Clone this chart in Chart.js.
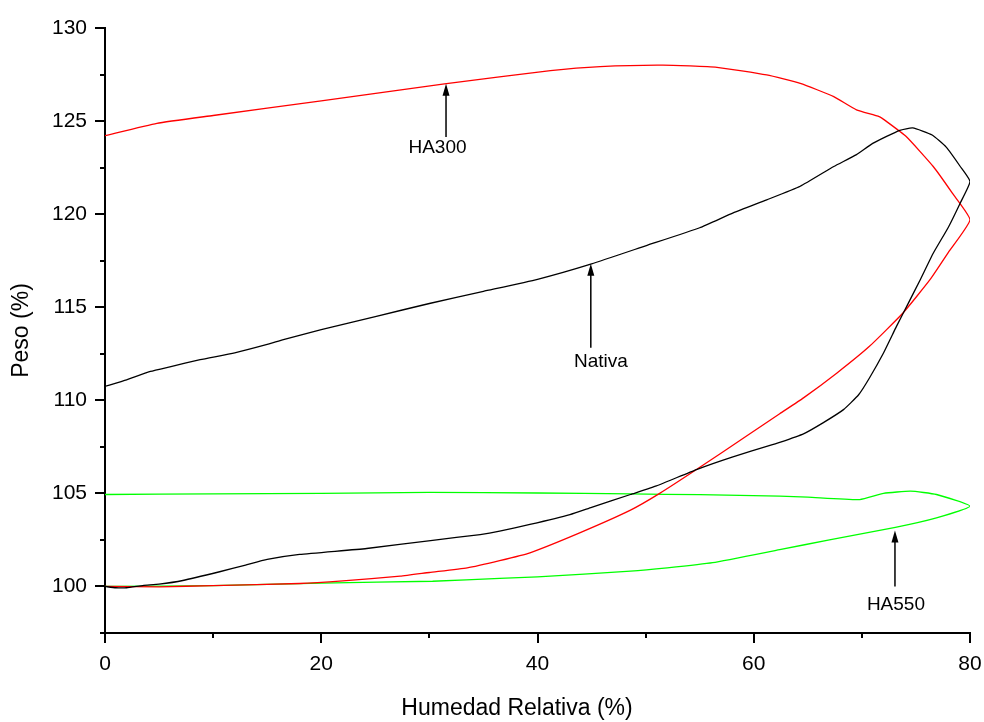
<!DOCTYPE html>
<html>
<head>
<meta charset="utf-8">
<script src="https://cdn.jsdelivr.net/npm/chart.js@4/dist/chart.umd.min.js"></script>
<style>
    body { margin: 0; background: #fff; }
</style>
</head>
<body>
<canvas id="myChart" width="984" height="722"></canvas>
<script>
// Nativa - adsorption (0 -> 80) then desorption (80 -> 0)
var nativaRH = [0, 1, 2, 3.5, 5, 7.2, 10.6, 13, 15, 18, 24.2, 30.3, 34.7, 36.5, 39.3, 43, 45, 48.6, 51, 54.7, 58, 61.5, 62.4, 64.6, 66.4, 68.3, 69.7, 70.7, 72, 73.2, 74.3, 75.4, 76.6, 78, 79.1, 80,
    79.1, 77.8, 76.5, 74.7, 73.5, 71, 69.5, 67.4, 64.3, 61.2, 58.1, 55, 50, 45, 40, 35, 30, 25, 20, 16.5, 15, 12, 8.8, 6, 4.2, 2, 0];
var nativaPeso = [100, 99.93, 99.93, 100.05, 100.12, 100.32, 100.79, 101.15, 101.45, 101.72, 102.04, 102.48, 102.79, 102.97, 103.33, 103.86, 104.25, 104.94, 105.4, 106.28, 106.95, 107.58, 107.74, 108.2, 108.79, 109.5, 110.3, 111.2, 112.54, 113.97, 115.22, 116.48, 117.9, 119.3, 120.6, 121.75,
    122.56, 123.6, 124.25, 124.63, 124.5, 123.8, 123.2, 122.56, 121.5, 120.77, 120.07, 119.27, 118.3, 117.33, 116.5, 115.85, 115.2, 114.5, 113.8, 113.26, 113.0, 112.55, 112.18, 111.8, 111.55, 111.1, 110.75];

// HA300
var ha300RH = [0, 5, 10, 18, 22, 27.3, 30, 33.5, 36.5, 39.3, 43.9, 48.6, 51.3, 54.7, 59.3, 62.4, 64.6, 67.7, 70.7, 73.8, 76.3, 78, 80,
    78.4, 76.6, 74.1, 72.3, 71.6, 69.5, 67.4, 64.3, 61.2, 56.6, 51.6, 45.8, 41.2, 31.4, 20, 10, 4.8, 0];
var ha300Peso = [100, 99.98, 100.05, 100.16, 100.3, 100.55, 100.75, 101.0, 101.39, 101.81, 102.88, 104.1, 105.0, 106.28, 108.07, 109.28, 110.13, 111.47, 112.9, 114.69, 116.48, 117.95, 119.7,
    121.1, 122.56, 124.17, 124.97, 125.24, 125.6, 126.31, 127.03, 127.48, 127.89, 128.01, 127.93, 127.71, 127.0, 126.09, 125.3, 124.88, 124.22];

// HA550
var ha550RH = [0, 10, 20, 30.3, 36.5, 40, 48.6, 52, 56.2, 62.4, 67, 73.1, 76.9, 80,
    76.9, 74.5, 72, 69.8, 65, 62.4, 55, 48.6, 40, 30, 20, 10, 0];
var ha550Peso = [100, 100.05, 100.18, 100.28, 100.43, 100.52, 100.82, 101.0, 101.28, 101.98, 102.5, 103.17, 103.68, 104.31,
    104.94, 105.12, 105.0, 104.67, 104.8, 104.85, 104.93, 104.97, 105.02, 105.05, 105.0, 104.97, 104.94];

// Arrow labels (data units)
var annotLabels = ['HA300', 'Nativa', 'HA550'];
var annotTipX = [31.54, 44.93, 73.06];
var annotTipY = [127.0, 117.33, 103.0];
var annotTailY = [124.15, 112.83, 100.0];
var annotTextX = [30.75, 45.87, 73.15];
var annotTextY = [123.56, 112.07, 99.03];

var xTitle = 'Humedad Relativa (%)';

function toPoints(xs, ys) {
    return xs.map(function (x, i) { return { x: x, y: ys[i] }; });
}

var FONT = "'Liberation Sans', Arial, sans-serif";

// Draw major/minor tick marks, the x title and the arrows with their labels
var extras = {
    id: 'extras',
    afterDraw: function (chart) {
        var ctx = chart.ctx;
        var xs = chart.scales.x;
        var ys = chart.scales.y;
        var area = chart.chartArea;
        ctx.save();
        ctx.strokeStyle = '#000';
        ctx.lineWidth = 2;
        ys.ticks.forEach(function (t) {
            var py = Math.round(ys.getPixelForValue(t.value));
            var len = (t.value % 5 === 0) ? 10 : 5;
            ctx.beginPath();
            ctx.moveTo(area.left - len, py);
            ctx.lineTo(area.left, py);
            ctx.stroke();
        });
        xs.ticks.forEach(function (t) {
            var px = Math.round(xs.getPixelForValue(t.value));
            var len = (t.value % 20 === 0) ? 10 : 5;
            ctx.beginPath();
            ctx.moveTo(px, area.bottom);
            ctx.lineTo(px, area.bottom + len);
            ctx.stroke();
        });

        // x axis title (sits a bit left of the axis centre in the original)
        ctx.fillStyle = '#000';
        ctx.font = '23px ' + FONT;
        ctx.textAlign = 'center';
        ctx.textBaseline = 'middle';
        ctx.fillText(xTitle, area.left + 412, xs.bottom - 13);

        // arrows
        ctx.lineWidth = 1.5;
        for (var i = 0; i < annotLabels.length; i++) {
            var ax = xs.getPixelForValue(annotTipX[i]);
            var tipY = ys.getPixelForValue(annotTipY[i]);
            var tailY = ys.getPixelForValue(annotTailY[i]);
            ctx.beginPath();
            ctx.moveTo(ax, tailY);
            ctx.lineTo(ax, tipY + 10);
            ctx.stroke();
            ctx.beginPath();
            ctx.moveTo(ax, tipY);
            ctx.lineTo(ax - 3.5, tipY + 12);
            ctx.lineTo(ax + 3.5, tipY + 12);
            ctx.closePath();
            ctx.fill();
            ctx.font = '19px ' + FONT;
            ctx.fillText(annotLabels[i], xs.getPixelForValue(annotTextX[i]), ys.getPixelForValue(annotTextY[i]));
        }
        ctx.restore();
    }
};

var ctx = document.getElementById('myChart').getContext('2d');
var myChart = new Chart(ctx, {
    type: 'scatter',
    data: {
        datasets: [{
            label: 'Nativa',
            data: toPoints(nativaRH, nativaPeso),
            borderColor: '#000000',
            borderWidth: 1.3,
            showLine: true,
            pointRadius: 0,
            tension: 0.15
        },
        {
            label: 'HA300',
            data: toPoints(ha300RH, ha300Peso),
            borderColor: '#ff0000',
            borderWidth: 1.3,
            showLine: true,
            pointRadius: 0,
            tension: 0.15
        },
        {
            label: 'HA550',
            data: toPoints(ha550RH, ha550Peso),
            borderColor: '#00ff00',
            borderWidth: 1.3,
            showLine: true,
            pointRadius: 0,
            tension: 0.15
        }]
    },
    options: {
        responsive: false,
        animation: false,
        layout: {
            padding: { top: 28, right: 14, left: 0, bottom: 0 }
        },
        plugins: {
            legend: { display: false },
            tooltip: { enabled: false }
        },
        scales: {
            x: {
                type: 'linear',
                min: 0,
                max: 80,
                afterFit: function (scale) {
                    scale.height = 89;
                    scale.paddingLeft = 0;
                    scale.paddingRight = 0;
                },
                grid: { display: false, drawTicks: false },
                border: { display: true, color: '#000', width: 2 },
                ticks: {
                    stepSize: 10,
                    padding: 19,
                    color: '#000',
                    font: { family: FONT, size: 21 },
                    callback: function (v) { return v % 20 === 0 ? v : ''; }
                },
                title: { display: false }
            },
            y: {
                type: 'linear',
                min: 97.5,
                max: 130,
                afterFit: function (scale) {
                    scale.width = 105;
                    scale.paddingTop = 0;
                    scale.paddingBottom = 0;
                },
                grid: { display: false, drawTicks: false },
                border: { display: true, color: '#000', width: 2 },
                ticks: {
                    stepSize: 2.5,
                    padding: 18,
                    color: '#000',
                    font: { family: FONT, size: 21 },
                    callback: function (v) { return v % 5 === 0 ? v : ''; }
                },
                title: {
                    display: true,
                    text: 'Peso (%)',
                    color: '#000',
                    font: { family: FONT, size: 23 },
                    padding: { top: 8, bottom: 0 }
                }
            }
        }
    },
    plugins: [extras]
});
</script>
</body>
</html>
